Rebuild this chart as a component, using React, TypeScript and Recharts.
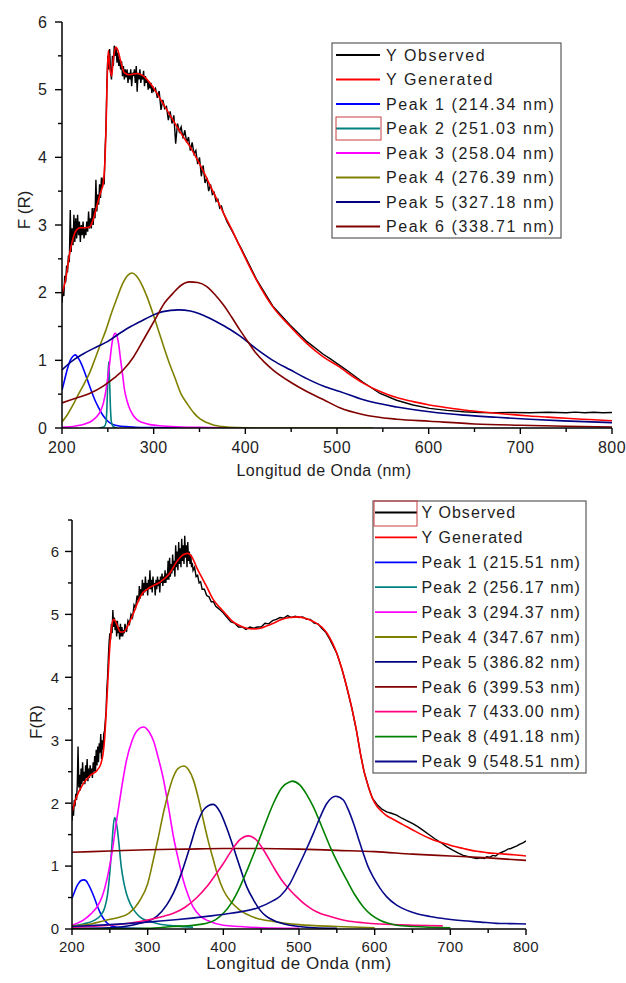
import React from 'react';
import { LineChart, Line, XAxis, YAxis } from 'recharts';

const FONT = '"Liberation Sans", Arial, Helvetica, sans-serif';
const TEXT = '#1e1e1e';

type P = [number, number];

// ---------------- TOP CHART DATA ----------------
const topObserved: P[] = [
  [200,1.85],[201,2.05],[202,1.95],[203,2.25],[204,2.15],[205,2.4],[206,2.3],[207,2.55],[208,2.45],[209,3.22],
  [210,2.6],[211,2.95],[212,2.7],[213,3.15],[214,2.75],[215,3.1],[216,2.8],[217,3.15],[218,2.85],[219,3.05],
  [220,2.75],[221,3.0],[222,2.85],[223,3.05],[224,2.8],[225,2.95],[226,2.85],[227,3.05],[228,2.9],[229,3.2],
  [230,2.95],[231,3.1],[232,2.95],[233,3.25],[234,3.0],[235,3.25],[236,3.1],[237,3.67],[238,3.2],[239,3.45],
  [240,3.3],[241,3.6],[242,3.4],[243,3.7],[244,3.55],[245,3.7],[246,3.6],[247,4.1],[248,4.45],[249,5.1],
  [250,5.5],[251,5.3],[252,5.6],[253,5.25],[254,5.15],[255,5.5],[256,5.35],[257,5.65],[258,5.5],[259,5.62],
  [260,5.4],[261,5.55],[262,5.35],[263,5.45],[264,5.3],[265,5.42],[266,5.2],[267,5.35],[268,5.15],[269,5.3],
  [270,5.18],[271,5.3],[272,5.1],[273,5.25],[274,5.15],[275,5.3],[276,5.05],[277,5.25],[278,5.2],[279,5.3],
  [280,5.1],[281,5.35],[282,4.97],[283,5.25],[284,5.15],[285,5.3],[286,5.1],[287,5.22],[288,5.15],[289,5.28],
  [290,5.05],[291,5.2],[292,5.1],[293,5.15],[294,5.0],[295,5.12],[296,5.02],[297,5.1],[298,4.95],[299,5.05],
  [300,4.98],[302,5.02],[304,4.88],[306,4.98],[308,4.7],[310,4.85],[312,4.72],[314,4.75],[316,4.55],[318,4.68],
  [320,4.5],[322,4.62],[324,4.2],[326,4.5],[328,4.38],[330,4.45],[332,4.28],[334,4.4],[336,4.22],[338,4.3],
  [340,4.1],[342,4.22],[344,4.05],[346,4.1],[348,3.9],[350,4.0],[352,3.72],[354,3.88],[356,3.62],[358,3.7],
  [360,3.5],[362,3.6],[364,3.45],[366,3.48],[368,3.35],[370,3.38],[372,3.25],[374,3.28],[376,3.18],[378,3.12],
  [380,3.05],[384,2.95],[388,2.85],[392,2.74],[396,2.64],[400,2.53],[412,2.2],[430,1.8],[449,1.52],[467,1.28],
  [485,1.09],[492,1.03],[510,0.86],[528,0.68],[547,0.51],[565,0.41],[583,0.34],[601,0.29],[620,0.26],[638,0.24],
  [656,0.23],[674,0.226],[692,0.23],[710,0.226],[730,0.232],[750,0.225],[760,0.235],[770,0.225],[780,0.233],[790,0.226],[800,0.23],
];

const topGenerated: P[] = [
  [200,1.98],[204,2.2],[208,2.55],[212,2.8],[216,2.93],[220,2.96],[225,2.96],[230,2.97],[234,3.08],[238,3.28],
  [242,3.48],[245,3.62],[247,4.0],[248,4.4],[249,5.0],[250.5,5.58],[252,5.35],[254,5.2],[256,5.45],[258.5,5.63],
  [261,5.58],[264,5.42],[268,5.25],[274,5.22],[282,5.24],[289,5.2],[296,5.1],[303,4.96],[310,4.8],[318,4.62],
  [325,4.46],[332,4.31],[340,4.15],[347,3.98],[354,3.8],[361,3.6],[369,3.38],[376,3.18],[385,2.94],[394,2.68],
  [412,2.19],[430,1.79],[449,1.5],[467,1.25],[485,1.05],[503,0.9],[511,0.82],[529,0.66],[547,0.54],[565,0.45],
  [583,0.39],[601,0.34],[620,0.3],[638,0.266],[656,0.24],[674,0.217],[692,0.197],[710,0.177],[730,0.16],[750,0.143],
  [775,0.125],[800,0.108],
];

const topPeak1: P[] = [
  [200,0.56],[203,0.72],[206,0.88],[209,1.0],[212,1.06],[214.3,1.08],[217,1.05],[220,0.98],[224,0.85],[228,0.7],
  [232,0.55],[236,0.41],[240,0.3],[245,0.18],[250,0.1],[256,0.05],[262,0.03],[270,0.02],[280,0.01],[300,0.005],[330,0],
];
const topPeak2: P[] = [
  [240,0],[246,0.02],[248,0.08],[249,0.3],[250,0.7],[251,0.98],[252,0.65],[253,0.25],[254,0.08],[256,0.02],[260,0],
];
const topPeak3: P[] = [
  [200,0.01],[215,0.03],[225,0.06],[232,0.1],[238,0.17],[242,0.25],[245,0.36],[248,0.56],[250,0.75],[252,0.96],
  [254,1.2],[256,1.35],[258,1.4],[260,1.36],[262,1.22],[264,1.0],[266,0.8],[268,0.58],[271,0.4],[274,0.28],
  [278,0.18],[282,0.12],[288,0.08],[296,0.05],[310,0.03],[330,0.015],[360,0.008],[395,0],
];
const topPeak4: P[] = [
  [200,0.09],[206,0.2],[212,0.34],[218,0.5],[224,0.65],[230,0.81],[236,1.02],[242,1.24],[248,1.45],[254,1.7],
  [260,1.92],[266,2.13],[272,2.26],[276.4,2.29],[281,2.25],[287,2.12],[293,1.93],[299,1.7],[305,1.45],[311,1.2],
  [317,0.96],[323,0.75],[330,0.5],[337,0.35],[344,0.22],[351,0.13],[358,0.08],[366,0.04],[375,0.02],[390,0.005],
  [420,0],[540,0],
];
const topPeak5: P[] = [
  [200,0.86],[212,1.0],[225,1.11],[238,1.2],[250,1.28],[263,1.4],[275,1.5],[285,1.57],[298,1.66],[310,1.72],
  [327,1.745],[340,1.73],[350,1.69],[360,1.63],[370,1.56],[383,1.46],[394,1.36],[412,1.17],[430,1.0],[449,0.86],
  [467,0.73],[485,0.62],[503,0.54],[528,0.42],[565,0.31],[601,0.24],[638,0.19],[674,0.158],[710,0.13],[747,0.105],[800,0.08],
];
const topPeak6: P[] = [
  [200,0.37],[215,0.44],[230,0.51],[245,0.62],[257,0.74],[267,0.86],[278,1.05],[290,1.33],[303,1.64],[312,1.85],
  [321,1.99],[330,2.11],[339,2.16],[348,2.15],[358,2.09],[367,1.97],[376,1.82],[385,1.64],[394,1.45],[403,1.27],
  [412,1.1],[421,0.97],[430,0.86],[449,0.68],[467,0.54],[485,0.42],[503,0.3],[528,0.2],[565,0.13],[601,0.1],
  [650,0.06],[700,0.04],[750,0.025],[800,0.015],
];

const topNames = [
  'Y Observed', 'Y Generated', 'Peak 1 (214.34 nm)', 'Peak 2 (251.03 nm)', 'Peak 3 (258.04 nm)',
  'Peak 4 (276.39 nm)', 'Peak 5 (327.18 nm)', 'Peak 6 (338.71 nm)',
];
const topColors = ['#000000', '#ff0000', '#0000ff', '#008080', '#ff00ff', '#808000', '#000080', '#800000'];
const topYTicks = [0, 0.5, 1, 1.5, 2, 2.5, 3, 3.5, 4, 4.5, 5, 5.5, 6];

// ---------------- BOTTOM CHART DATA ----------------
const botObserved: P[] = [
  [200,1.72],[201,1.95],[202,1.8],[203,2.05],[204,1.95],[205,2.15],[206,2.05],[207,2.3],[208,2.9],[209,2.25],
  [210,2.45],[211,2.2],[212,2.55],[213,2.3],[214,2.65],[215,2.35],[216,2.5],[217,2.3],[218,2.6],[219,2.4],
  [220,2.7],[221,2.35],[222,2.55],[223,2.4],[224,2.6],[225,2.45],[226,2.55],[227,2.4],[228,2.65],[229,2.5],
  [230,2.75],[231,2.5],[232,2.85],[233,2.6],[234,2.9],[235,2.65],[236,2.95],[237,2.8],[238,3.1],[239,2.7],
  [240,3.0],[241,2.85],[242,3.1],[243,3.15],[244,3.3],[245,3.45],[246,3.8],[247,4.0],[248,4.3],[249,4.55],
  [250,4.7],[251,4.6],[252,4.85],[253,4.7],[254,5.07],[255,4.8],[256,4.95],[257,4.75],[258,4.9],[259,4.65],
  [260,4.9],[261,4.7],[262,4.8],[263,4.6],[264,4.85],[265,4.65],[266,4.8],[267,4.65],[268,4.75],[269,4.7],
  [270,4.85],[272,4.72],[274,4.9],[276,4.85],[278,5.0],[280,4.95],[282,5.15],[284,5.1],[286,5.3],[288,5.2],
  [289,5.45],[290,5.25],[291,5.4],[292,5.3],[293,5.55],[294,5.3],[295,5.5],[296,5.35],[297,5.6],[298,5.4],
  [299,5.5],[300,5.3],[301,5.55],[302,5.4],[303,5.7],[304,5.4],[305,5.55],[306,5.35],[307,5.6],[308,5.45],
  [309,5.5],[310,5.3],[311,5.55],[312,5.4],[313,5.6],[314,5.45],[315,5.55],[316,5.35],[317,5.6],[318,5.5],
  [319,5.65],[320,5.45],[321,5.6],[322,5.5],[323,5.7],[324,5.5],[325,5.65],[326,5.55],[327,5.85],[328,5.55],
  [329,5.9],[330,5.6],[331,5.8],[332,5.65],[333,5.95],[334,5.7],[335,5.85],[336,5.6],[337,6.1],[338,5.75],
  [339,6.0],[340,5.7],[341,6.15],[342,5.8],[343,6.05],[344,5.75],[345,6.2],[346,5.85],[347,6.1],[348,5.8],
  [349,6.25],[350,5.9],[351,6.1],[352,5.75],[353,6.15],[354,5.85],[355,6.0],[356,5.8],[357,5.95],[358,5.75],
  [359,5.82],[360,5.7],[362,5.75],[364,5.6],[366,5.62],[368,5.5],[370,5.52],[372,5.4],[375,5.4],[378,5.3],
  [381,5.28],[384,5.2],[387,5.2],[390,5.13],[395,5.08],[400,5.02],[405,4.95],[410,4.88],[415,4.86],[420,4.8],
  [425,4.8],[430,4.76],[435,4.8],[440,4.78],[445,4.8],[450,4.8],[455,4.86],[460,4.85],[465,4.9],[470,4.92],
  [475,4.95],[480,4.94],[485,4.98],[490,4.95],[495,4.97],[500,4.95],[505,4.96],[510,4.92],[515,4.92],[520,4.86],
  [525,4.85],[530,4.78],[535,4.72],[540,4.62],[545,4.5],[550,4.38],[557,4.12],[563,3.85],[570,3.5],[576,3.15],
  [581,2.8],[586,2.5],[592,2.25],[597,2.08],[603,1.98],[610,1.9],[616,1.86],[622,1.84],[629,1.81],[636,1.76],
  [643,1.72],[651,1.67],[658,1.62],[665,1.56],[673,1.49],[680,1.43],[688,1.37],[695,1.31],[702,1.26],[710,1.21],
  [717,1.17],[724,1.15],[730,1.13],[735,1.12],[740,1.13],[745,1.12],[748,1.15],[752,1.14],[756,1.17],[760,1.16],
  [764,1.2],[768,1.22],[772,1.24],[776,1.27],[780,1.28],[784,1.3],[788,1.32],[792,1.35],[796,1.37],[800,1.4],
];

const botGenerated: P[] = [
  [200,1.86],[206,2.1],[215,2.31],[224,2.44],[233,2.52],[238,2.62],[241,2.78],[243,3.0],[245,3.4],[247,3.85],
  [249,4.3],[251,4.65],[253,4.85],[255,4.92],[257,4.9],[260,4.82],[264,4.72],[268,4.72],[272,4.78],[277,4.9],
  [281,5.01],[290,5.28],[303,5.43],[316,5.51],[329,5.65],[338,5.83],[344,5.92],[349,5.96],[353,5.97],[356,5.95],
  [360,5.88],[365,5.74],[371,5.6],[378,5.44],[387,5.23],[396,5.1],[405,4.98],[413,4.88],[422,4.82],[431,4.78],
  [440,4.77],[449,4.78],[458,4.82],[466,4.86],[477,4.92],[488,4.95],[499,4.96],[510,4.93],[520,4.88],[530,4.8],
  [537,4.7],[544,4.55],[550,4.38],[557,4.12],[563,3.85],[570,3.5],[576,3.15],[581,2.8],[586,2.5],[592,2.25],
  [597,2.08],[603,1.95],[610,1.86],[616,1.8],[625,1.74],[634,1.68],[642,1.63],[651,1.57],[662,1.5],[673,1.44],
  [684,1.39],[695,1.35],[706,1.31],[717,1.28],[728,1.25],[739,1.23],[750,1.21],[761,1.2],[772,1.19],[784,1.18],[800,1.16],
];

const botPeak1: P[] = [
  [200,0.49],[203,0.58],[206,0.67],[209,0.73],[212,0.77],[215.5,0.78],[219,0.76],[222,0.7],[226,0.6],[230,0.48],
  [234,0.35],[238,0.24],[242,0.16],[246,0.1],[250,0.06],[256,0.035],[265,0.02],[280,0.01],[300,0.005],
];
const botPeak2: P[] = [
  [200,0.05],[215,0.08],[230,0.14],[238,0.22],[243,0.33],[247,0.55],[250,0.9],[252,1.2],[254,1.55],[256.2,1.77],
  [258,1.72],[260,1.58],[262,1.36],[265,1.0],[268,0.77],[272,0.56],[277,0.4],[283,0.28],[290,0.19],[300,0.13],
  [315,0.08],[335,0.05],[360,0.03],
];
const botPeak3: P[] = [
  [200,0.06],[215,0.14],[225,0.24],[233,0.35],[240,0.52],[246,0.78],[252,1.15],[259,1.73],[265,2.2],[272,2.68],
  [279,2.98],[286,3.15],[294.4,3.21],[302,3.13],[308,2.98],[314,2.72],[321,2.37],[328,1.9],[334,1.47],[341,1.08],
  [347,0.78],[354,0.52],[360,0.35],[370,0.2],[380,0.13],[400,0.06],[422,0.04],[450,0.02],[500,0.01],
];
const botPeak4: P[] = [
  [200,0.05],[225,0.08],[245,0.14],[260,0.18],[275,0.25],[290,0.46],[300,0.72],[307.5,1.1],[314,1.45],[320.7,1.84],
  [327,2.15],[334,2.42],[340,2.55],[347.7,2.59],[354,2.53],[360.4,2.37],[367,2.08],[373.6,1.73],[380,1.4],[386.8,1.1],
  [393,0.84],[400,0.62],[411,0.42],[422,0.3],[444,0.17],[466,0.12],[500,0.07],[550,0.04],[600,0.02],
];
const botPeak5: P[] = [
  [200,0.01],[250,0.02],[290,0.09],[312,0.2],[325,0.38],[334,0.57],[345,0.9],[356,1.31],[365,1.66],[373.6,1.89],
  [380,1.96],[386.8,1.98],[395.6,1.86],[404,1.62],[413,1.31],[422,0.98],[431,0.67],[440,0.46],[448.5,0.3],[457,0.2],
  [466,0.14],[477,0.09],[488,0.06],[500,0.04],[520,0.02],[550,0.01],
];
const botPeak6: P[] = [
  [200,1.22],[250,1.24],[300,1.26],[350,1.27],[400,1.28],[450,1.28],[500,1.27],[550,1.25],[600,1.23],[650,1.19],
  [700,1.16],[750,1.13],[800,1.09],
];
const botPeak7: P[] = [
  [200,0.03],[250,0.06],[290,0.12],[320,0.2],[334,0.25],[350,0.35],[365,0.5],[378,0.67],[389,0.85],[400,1.04],
  [411,1.25],[422,1.42],[433,1.48],[444,1.41],[455,1.22],[466,0.99],[477,0.78],[488,0.62],[497,0.51],[508,0.39],
  [519,0.3],[530,0.24],[541,0.2],[563,0.13],[585,0.1],[607,0.08],[651,0.06],[690,0.05],
];
const botPeak8: P[] = [
  [200,0],[300,0.01],[334,0.04],[360,0.06],[378,0.09],[390,0.15],[400,0.25],[411,0.42],[422,0.67],[433,0.98],
  [444,1.31],[455,1.66],[466,1.99],[477,2.24],[488,2.34],[491,2.35],[501,2.29],[510,2.14],[519,1.94],[530,1.63],
  [541,1.31],[552,1.03],[563,0.78],[574,0.54],[585,0.35],[596,0.22],[607,0.14],[618,0.09],[629,0.06],[651,0.04],[700,0.02],
];
const botPeak9: P[] = [
  [200,0.04],[250,0.07],[290,0.1],[340,0.15],[378,0.2],[410,0.25],[444,0.33],[466,0.45],[475,0.52],[488,0.72],
  [497,0.94],[508,1.22],[519,1.52],[528,1.78],[536.5,1.99],[548.5,2.11],[558.6,2.05],[565,1.9],[572,1.68],[578.5,1.44],
  [585,1.2],[591,1.0],[598,0.83],[607,0.65],[616,0.51],[629,0.38],[642,0.3],[657,0.24],[673,0.2],[695,0.16],
  [717,0.13],[740,0.11],[761,0.09],[780,0.085],[800,0.08],
];

const botNames = [
  'Y Observed', 'Y Generated', 'Peak 1 (215.51 nm)', 'Peak 2 (256.17 nm)', 'Peak 3 (294.37 nm)',
  'Peak 4 (347.67 nm)', 'Peak 5 (386.82 nm)', 'Peak 6 (399.53 nm)', 'Peak 7 (433.00 nm)',
  'Peak 8 (491.18 nm)', 'Peak 9 (548.51 nm)',
];
const botColors = ['#000000', '#ff0000', '#0000ff', '#008080', '#ff00ff', '#808000', '#000080', '#800000', '#ff0080', '#008000', '#0a0a8c'];
const botYTicks = [0, 0.5, 1, 1.5, 2, 2.5, 3, 3.5, 4, 4.5, 5, 5.5, 6, 6.5];

const xTicks = [200, 250, 300, 350, 400, 450, 500, 550, 600, 650, 700, 750, 800];

// ---------------- helpers ----------------
const rows = (pts: P[]) => pts.map(([x, y]) => ({ x, y }));

const topSeriesPts = [topObserved, topGenerated, topPeak1, topPeak2, topPeak3, topPeak4, topPeak5, topPeak6];
const botSeriesPts = [botObserved, botGenerated, botPeak1, botPeak2, botPeak3, botPeak4, botPeak5, botPeak6, botPeak7, botPeak8, botPeak9];

function XTick(props: any) {
  const { x, y, payload, fontSize, labelDy } = props;
  const v = payload.value as number;
  const major = v % 100 === 0;
  return (
    <g>
      <line x1={x} y1={y} x2={x} y2={y + (major ? 6 : 4)} stroke="#000" strokeWidth={1.4} />
      {major && (
        <text x={x} y={y + labelDy} textAnchor="middle" fontSize={fontSize} fontFamily={FONT} fill={TEXT} letterSpacing={0.4}>
          {v}
        </text>
      )}
    </g>
  );
}

function YTick(props: any) {
  const { x, y, payload, fontSize, gap } = props;
  const v = payload.value as number;
  const major = Math.abs(v - Math.round(v)) < 1e-6;
  return (
    <g>
      <line x1={x - (major ? 7 : 4)} y1={y} x2={x} y2={y} stroke="#000" strokeWidth={1.4} />
      {major && (
        <text x={x - gap} y={y} dy="0.36em" textAnchor="end" fontSize={fontSize} fontFamily={FONT} fill={TEXT}>
          {v}
        </text>
      )}
    </g>
  );
}

function renderLines(list: P[][], colors: string[], names: string[]) {
  return list.map((pts, i) => (
    <Line
      key={names[i]}
      name={names[i]}
      data={rows(pts)}
      dataKey="y"
      type={i === 0 ? 'linear' : 'monotone'}
      stroke={colors[i]}
      strokeWidth={i === 0 ? 1.4 : 1.6}
      dot={false}
      activeDot={false}
      isAnimationActive={false}
    />
  ));
}

function LegendBox(props: {
  x: number; y: number; w: number; h: number; firstY: number; step: number;
  names: string[]; colors: string[]; lx1: number; lx2: number; tx: number;
  fontSize: number; spacing: number; selBox: [number, number, number, number];
}) {
  const { x, y, w, h, firstY, step, names, colors, lx1, lx2, tx, fontSize, spacing, selBox } = props;
  return (
    <g>
      <rect x={x} y={y} width={w} height={h} fill="#fff" stroke="#5a5a5a" strokeWidth={1.2} />
      {names.map((n, i) => {
        const cy = firstY + i * step;
        return (
          <g key={n}>
            <line x1={lx1} y1={cy} x2={lx2} y2={cy} stroke={colors[i]} strokeWidth={1.8} />
            <text x={tx} y={cy} dy="0.36em" fontSize={fontSize} fontFamily={FONT} fill={TEXT} letterSpacing={spacing}>
              {n}
            </text>
          </g>
        );
      })}
      <rect x={selBox[0]} y={selBox[1]} width={selBox[2]} height={selBox[3]} fill="none" stroke="#c84040" strokeWidth={1} />
    </g>
  );
}

export default function App() {
  return (
    <div style={{ position: 'absolute', left: 0, top: 0, width: 626, height: 983, background: '#fff', overflow: 'hidden' }}>
      <div style={{ position: 'absolute', left: 0, top: 0 }}>
        <LineChart width={626} height={490} margin={{ top: 22, right: 14, bottom: 12, left: 0 }}>
          <XAxis
            type="number"
            dataKey="x"
            domain={[200, 800]}
            ticks={xTicks}
            interval={0}
            allowDataOverflow
            height={50}
            tickSize={0}
            tickMargin={0}
            axisLine={{ stroke: '#000', strokeWidth: 1.5 }}
            tickLine={false}
            tick={(p: any) => <XTick {...p} fontSize={16} labelDy={25} />}
          />
          <YAxis
            type="number"
            domain={[0, 6]}
            ticks={topYTicks}
            interval={0}
            allowDataOverflow
            width={62}
            tickSize={0}
            tickMargin={0}
            axisLine={{ stroke: '#000', strokeWidth: 1.5 }}
            tickLine={false}
            tick={(p: any) => <YTick {...p} fontSize={16} gap={15} />}
          />
          {renderLines(topSeriesPts, topColors, topNames)}
        </LineChart>
      </div>
      <div style={{ position: 'absolute', left: 0, top: 490 }}>
        <LineChart width={626} height={493} margin={{ top: 30, right: 100, bottom: 11, left: 0 }}>
          <XAxis
            type="number"
            dataKey="x"
            domain={[200, 800]}
            ticks={xTicks}
            interval={0}
            allowDataOverflow
            height={43}
            tickSize={0}
            tickMargin={0}
            axisLine={{ stroke: '#000', strokeWidth: 1.5 }}
            tickLine={false}
            tick={(p: any) => <XTick {...p} fontSize={15} labelDy={23} />}
          />
          <YAxis
            type="number"
            domain={[0, 6.5]}
            ticks={botYTicks}
            interval={0}
            allowDataOverflow
            width={72}
            tickSize={0}
            tickMargin={0}
            axisLine={{ stroke: '#000', strokeWidth: 1.5 }}
            tickLine={false}
            tick={(p: any) => <YTick {...p} fontSize={15} gap={13} />}
          />
          {renderLines(botSeriesPts, botColors, botNames)}
        </LineChart>
      </div>
      <svg width={626} height={983} style={{ position: 'absolute', left: 0, top: 0, pointerEvents: 'none' }}>
        <LegendBox
          x={332} y={43} w={229} h={195} firstY={55} step={24.5}
          names={topNames} colors={topColors} lx1={336} lx2={380} tx={386}
          fontSize={16} spacing={1.6} selBox={[336, 117, 45, 23]}
        />
        <LegendBox
          x={373} y={501} w={213} h={272} firstY={512.5} step={24.9}
          names={botNames} colors={botColors} lx1={375} lx2={417} tx={421.5}
          fontSize={16} spacing={1.05} selBox={[374, 501, 43, 25]}
        />
        <text x={324} y={476} textAnchor="middle" fontSize={16} fontFamily={FONT} fill={TEXT} letterSpacing={0.5}>
          Longitud de Onda (nm)
        </text>
        <text x={299} y={969} textAnchor="middle" fontSize={17} fontFamily={FONT} fill={TEXT} letterSpacing={0.5}>
          Longitud de Onda (nm)
        </text>
        <text x={24} y={210} dy="0.36em" textAnchor="middle" fontSize={17} fontFamily={FONT} fill={TEXT} transform="rotate(-90 24 210)">
          F (R)
        </text>
        <text x={36} y={722} dy="0.36em" textAnchor="middle" fontSize={17} fontFamily={FONT} fill={TEXT} transform="rotate(-90 36 722)">
          F(R)
        </text>
      </svg>
    </div>
  );
}
